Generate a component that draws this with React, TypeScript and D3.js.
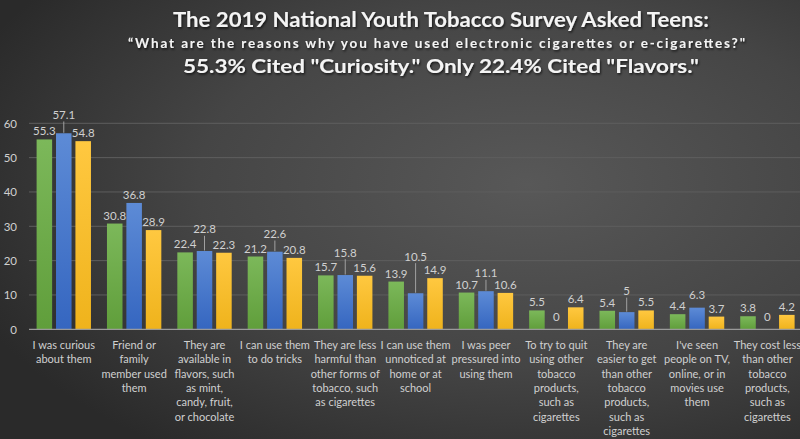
import React from "react";
import * as d3 from "d3";

const categories = [
  "I was curious\nabout them",
  "Friend or\nfamily\nmember used\nthem",
  "They are\navailable in\nflavors, such\nas mint,\ncandy, fruit,\nor chocolate",
  "I can use them\nto do tricks",
  "They are less\nharmful than\nother forms of\ntobacco, such\nas cigarettes",
  "I can use them\nunnoticed at\nhome or at\nschool",
  "I was peer\npressured into\nusing them",
  "To try to quit\nusing other\ntobacco\nproducts,\nsuch as\ncigarettes",
  "They are\neasier to get\nthan other\ntobacco\nproducts,\nsuch as\ncigarettes",
  "I've seen\npeople on TV,\nonline, or in\nmovies use\nthem",
  "They cost less\nthan other\ntobacco\nproducts,\nsuch as\ncigarettes",
];

const seriesNames = ["Series 1", "Series 2", "Series 3"];
const greenValues = [55.3, 30.8, 22.4, 21.2, 15.7, 13.9, 10.7, 5.5, 5.4, 4.4, 3.8];
const blueValues = [57.1, 36.8, 22.8, 22.6, 15.8, 10.5, 11.1, 0, 5, 6.3, 0];
const yellowValues = [54.8, 28.9, 22.3, 20.8, 15.6, 14.9, 10.6, 6.4, 5.5, 3.7, 4.2];
const yTicks = [0, 10, 20, 30, 40, 50, 60];

const titleLines = [
  "The 2019 National Youth Tobacco Survey Asked Teens:",
  "\u201cWhat are the reasons why you have used electronic cigarettes or e-cigarettes?\"",
  "55.3% Cited \"Curiosity.\" Only 22.4% Cited \"Flavors.\"",
];

// label offset tweaks (px) for the blue series labels, mimicking the reference's moved labels
const blueLabelLift = [10.3, 0, 13.7, 9.7, 14.4, 28.6, 9.9, 4.3, 13, 5, 4.3];

const W = 800;
const H = 439;

export default function App() {
  const series = [greenValues, blueValues, yellowValues];
  const gradIds = ["gGreen", "gBlue", "gYellow"];
  const idx = categories.map((_, i) => i);

  const x0 = d3.scaleBand<number>().domain(idx).range([28.6, 802.6]).padding(0);
  const x1 = d3
    .scaleBand<number>()
    .domain([0, 1, 2])
    .range([8, x0.bandwidth() - 8])
    .paddingInner(0.2)
    .paddingOuter(0);
  const y = d3.scaleLinear().domain([0, 60]).range([329.3, 123.3]);

  const font = "Lato, 'Open Sans', 'DejaVu Sans', sans-serif";
  const labelColor = "#d0d0d0";

  return (
    <svg
      width={W}
      height={H}
      viewBox={`0 0 ${W} ${H}`}
      style={{ position: "absolute", left: 0, top: 0, display: "block" }}
      fontFamily={font}
    >
      <defs>
        <radialGradient id="bg" cx="0.66" cy="0.42" r="0.75">
          <stop offset="0" stopColor="#585858" />
          <stop offset="0.55" stopColor="#454545" />
          <stop offset="1" stopColor="#2a2a2a" />
        </radialGradient>
        <linearGradient id="gGreen" x1="0" y1="0" x2="0" y2="1">
          <stop offset="0" stopColor="#7cb85a" />
          <stop offset="1" stopColor="#609e3b" />
        </linearGradient>
        <linearGradient id="gBlue" x1="0" y1="0" x2="0" y2="1">
          <stop offset="0" stopColor="#5d8bd6" />
          <stop offset="1" stopColor="#3566c0" />
        </linearGradient>
        <linearGradient id="gYellow" x1="0" y1="0" x2="0" y2="1">
          <stop offset="0" stopColor="#ffc840" />
          <stop offset="1" stopColor="#efb31c" />
        </linearGradient>
        <filter id="shadow" x="-5%" y="-30%" width="110%" height="160%">
          <feDropShadow dx="1" dy="1.5" stdDeviation="1.2" floodColor="#000" floodOpacity="0.7" />
        </filter>
      </defs>

      <rect x={0} y={0} width={W} height={H} fill="url(#bg)" />

      {/* titles */}
      <g filter="url(#shadow)" fill="#f4f4f4">
        <text x={441} y={27} textAnchor="middle" fontSize={20} fontWeight={700} textLength={536} lengthAdjust="spacingAndGlyphs">
          {titleLines[0]}
        </text>
        <text x={436.5} y={48} textAnchor="middle" fontSize={13.5} fontWeight={700} textLength={617} lengthAdjust="spacing">
          {titleLines[1]}
        </text>
        <text x={441} y={72.5} textAnchor="middle" fontSize={19.5} fontWeight={700} textLength={516} lengthAdjust="spacingAndGlyphs">
          {titleLines[2]}
        </text>
      </g>

      {/* gridlines */}
      {yTicks
        .filter((t) => t !== 0)
        .map((t) => (
          <line key={t} x1={29} x2={W} y1={y(t)} y2={y(t)} stroke="#5e5e5e" strokeWidth={1} />
        ))}

      {/* y tick labels */}
      {yTicks.map((t) => (
        <text key={t} x={17} y={y(t)} textAnchor="end" dominantBaseline="central" fontSize={11.5} fill={labelColor}>
          {t}
        </text>
      ))}

      {/* bars */}
      {series.map((vals, s) =>
        vals.map((v, i) => (
          <rect
            key={`${s}-${i}`}
            x={(x0(i) ?? 0) + (x1(s) ?? 0)}
            y={y(v)}
            width={x1.bandwidth()}
            height={y(0) - y(v)}
            fill={`url(#${gradIds[s]})`}
          />
        ))
      )}

      {/* axis line */}
      <line x1={29} x2={W} y1={y(0)} y2={y(0)} stroke="#9a9a9a" strokeWidth={1.2} />

      {/* value labels */}
      {series.map((vals, s) =>
        vals.map((v, i) => {
          const cx = (x0(i) ?? 0) + (x1(s) ?? 0) + x1.bandwidth() / 2;
          const lift = s === 1 ? blueLabelLift[i] : 0;
          const cy = y(v) - 8.5 - lift;
          return (
            <g key={`l-${s}-${i}`}>
              {lift > 8 && v > 0 && (
                <line x1={cx} x2={cx} y1={cy + 7} y2={y(v) - 0.5} stroke="#a0a0a0" strokeWidth={1} />
              )}
              <text x={cx} y={cy} textAnchor="middle" dominantBaseline="central" fontSize={11.5} fill={labelColor}>
                {String(v)}
              </text>
            </g>
          );
        })
      )}

      {/* category labels */}
      {categories.map((c, i) => {
        const cx = (x0(i) ?? 0) + x0.bandwidth() / 2;
        return (
          <text key={`c-${i}`} x={cx} y={349} textAnchor="middle" fontSize={11} fill={labelColor}>
            {c.split("\n").map((line, k) => (
              <tspan key={k} x={cx} dy={k === 0 ? 0 : 14.3}>
                {line}
              </tspan>
            ))}
          </text>
        );
      })}
    </svg>
  );
}
